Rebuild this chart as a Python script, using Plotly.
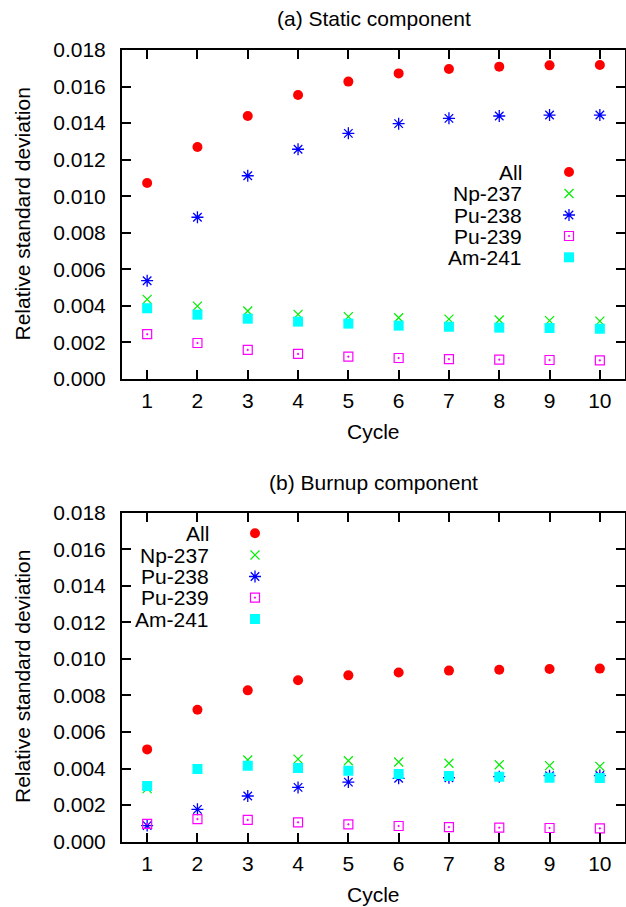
import plotly.graph_objects as go

# ---- data ---------------------------------------------------------------
cycles = [1, 2, 3, 4, 5, 6, 7, 8, 9, 10]
nuclides = ["All", "Np-237", "Pu-238", "Pu-239", "Am-241"]

static_all = [0.01072, 0.01269, 0.01439, 0.01554, 0.01627, 0.01672, 0.01696, 0.01709, 0.01716, 0.01718]
static_np237 = [0.00436, 0.00399, 0.00372, 0.00354, 0.00341, 0.00335, 0.00328, 0.00323, 0.00319, 0.00317]
static_pu238 = [0.00538, 0.00885, 0.01112, 0.01257, 0.01344, 0.01397, 0.01426, 0.01439, 0.01444, 0.01444]
static_pu239 = [0.00245, 0.00197, 0.00159, 0.00137, 0.00122, 0.00115, 0.00109, 0.00106, 0.00104, 0.00102]
static_am241 = [0.00387, 0.00352, 0.00330, 0.00314, 0.00303, 0.00292, 0.00286, 0.00281, 0.00279, 0.00275]

burnup_all = [0.00505, 0.00722, 0.00828, 0.00883, 0.00910, 0.00926, 0.00936, 0.00941, 0.00945, 0.00947]
burnup_np237 = [0.00290, 0.00400, 0.00447, 0.00452, 0.00443, 0.00436, 0.00429, 0.00421, 0.00416, 0.00412]
burnup_pu238 = [0.00088, 0.00177, 0.00250, 0.00297, 0.00326, 0.00347, 0.00350, 0.00356, 0.00361, 0.00362]
burnup_pu239 = [0.00097, 0.00124, 0.00119, 0.00106, 0.00095, 0.00086, 0.00080, 0.00077, 0.00075, 0.00073]
burnup_am241 = [0.00305, 0.00398, 0.00416, 0.00403, 0.00388, 0.00370, 0.00359, 0.00356, 0.00350, 0.00348]

y_ticks = [0.000, 0.002, 0.004, 0.006, 0.008, 0.010, 0.012, 0.014, 0.016, 0.018]
x_ticks = cycles

static_series = [static_all, static_np237, static_pu238, static_pu239, static_am241]
burnup_series = [burnup_all, burnup_np237, burnup_pu238, burnup_pu239, burnup_am241]

# ---- styling --------------------------------------------------------------
W, H = 626, 907
FONT = "Liberation Sans, Arial, Helvetica, sans-serif"
FS = 21

styles = {
    "All":    dict(symbol="circle", size=10, color="#ff0000", line=dict(width=0)),
    "Np-237": dict(symbol="x-thin-open", size=9, color="#00ee00", line=dict(width=1.2, color="#00ee00")),
    "Pu-238": dict(symbol="asterisk-open", size=10, color="#0000ff", line=dict(width=1.3, color="#0000ff")),
    "Pu-239": dict(symbol="square-open-dot", size=9, color="#ff00ff", line=dict(width=1.2, color="#ff00ff")),
    "Am-241": dict(symbol="square", size=10, color="#00ffff", line=dict(width=0)),
}

# plot-area pixel boxes (left, top, right, bottom)
panel_a = (122, 50, 625, 379)
panel_b = (122, 512.7, 625, 841.7)


def xdom(box):
    return [box[0] / W, box[2] / W]


def ydom(box):
    return [1 - box[3] / H, 1 - box[1] / H]


fig = go.Figure()

for series, xa, ya in ((static_series, "x", "y"), (burnup_series, "x2", "y2")):
    for name, vals in zip(nuclides, series):
        fig.add_trace(go.Scatter(
            x=cycles, y=vals, mode="markers", name=name,
            marker=styles[name], xaxis=xa, yaxis=ya, showlegend=False,
            hoverinfo="x+y+name",
        ))

# key entries, laid out in pixel space on an overlay axis pair
legend_rows = {
    "a": dict(text_right=524, sym_x=569, rows=[172, 193.5, 215, 236, 257.3]),
    "b": dict(text_right=210.5, sym_x=255, rows=[533.3, 555, 576.5, 597.7, 619]),
}
annotations = []
for key in legend_rows.values():
    for name, ry in zip(nuclides, key["rows"]):
        fig.add_trace(go.Scatter(
            x=[key["sym_x"]], y=[ry], mode="markers", marker=styles[name],
            xaxis="x3", yaxis="y3", showlegend=False, hoverinfo="skip",
        ))
        annotations.append(dict(
            text=name, xref="paper", yref="paper",
            x=key["text_right"] / W, y=1 - ry / H,
            xanchor="right", yanchor="middle", showarrow=False,
            font=dict(family=FONT, size=FS, color="black"),
        ))


def label(text, px, py, angle=0):
    annotations.append(dict(
        text=text, xref="paper", yref="paper", x=px / W, y=1 - py / H,
        xanchor="center", yanchor="middle", showarrow=False, textangle=angle,
        font=dict(family=FONT, size=FS, color="black"),
    ))


label("(a) Static component", 373.5, 19)
label("(b) Burnup component", 373.5, 482)
label("Cycle", 373.5, 431.5)
label("Cycle", 373.5, 894.5)
label("Relative standard deviation", 22, 214.5, -90)
label("Relative standard deviation", 22, 677, -90)

axis_common = dict(
    showline=True, linecolor="black", linewidth=2, mirror="allticks",
    ticks="inside", ticklen=9, tickwidth=1.5, tickcolor="black",
    showgrid=False, zeroline=False, automargin=False, fixedrange=True,
    tickfont=dict(family=FONT, size=FS, color="black"),
)

xaxis_kw = dict(axis_common, range=[0.5, 10.5], tickvals=x_ticks,
                ticktext=[str(v) for v in x_ticks], ticklabelstandoff=2)
yaxis_kw = dict(axis_common, range=[0, 0.018], tickvals=y_ticks,
                tickformat=".3f", ticklabelstandoff=10)

fig.update_layout(
    width=W, height=H,
    margin=dict(l=0, r=0, t=0, b=0),
    paper_bgcolor="white", plot_bgcolor="rgba(0,0,0,0)",
    showlegend=False,
    font=dict(family=FONT, size=FS, color="black"),
    xaxis=dict(xaxis_kw, domain=xdom(panel_a), anchor="y"),
    yaxis=dict(yaxis_kw, domain=ydom(panel_a), anchor="x"),
    xaxis2=dict(xaxis_kw, domain=xdom(panel_b), anchor="y2"),
    yaxis2=dict(yaxis_kw, domain=ydom(panel_b), anchor="x2"),
    xaxis3=dict(domain=[0, 1], range=[0, W], visible=False, fixedrange=True, anchor="y3"),
    yaxis3=dict(domain=[0, 1], range=[H, 0], visible=False, fixedrange=True, anchor="x3"),
    annotations=annotations,
)

fig.write_html("out.html")
